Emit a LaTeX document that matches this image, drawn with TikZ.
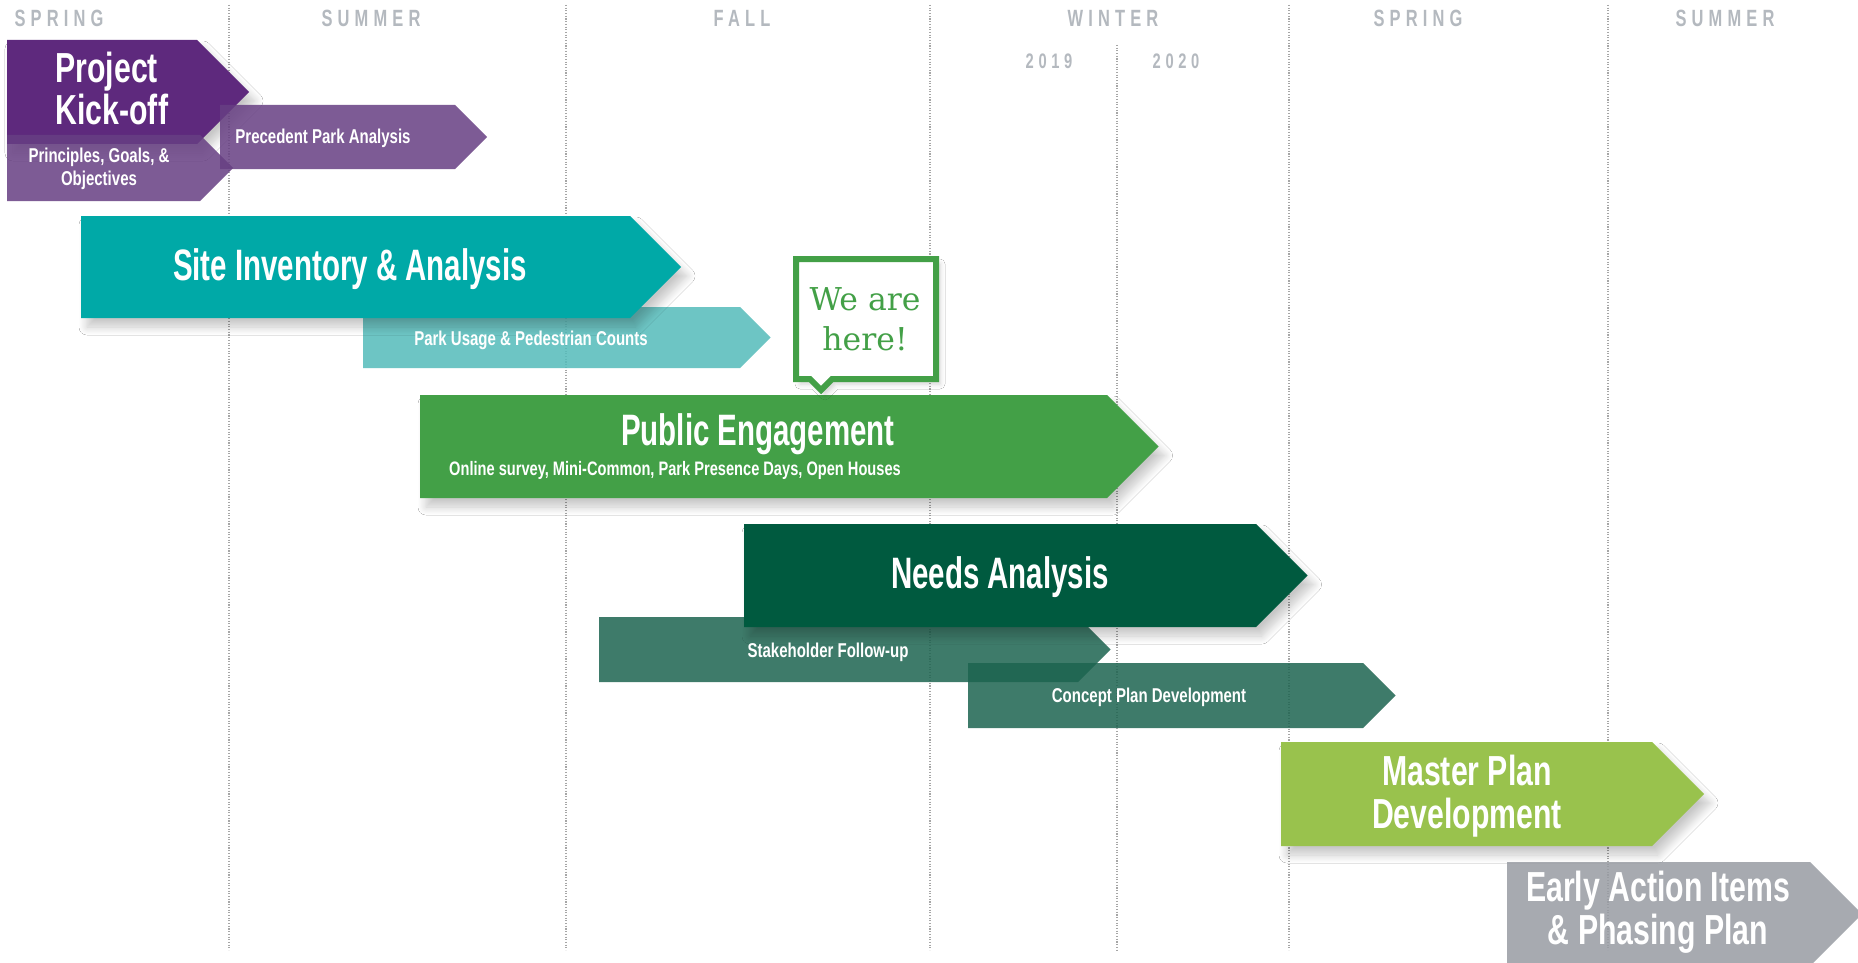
\documentclass[tikz,border=0pt]{standalone}
\usepackage{fontspec}
\usepackage{xcolor}
\usepackage{tikz}
\usetikzlibrary{calc}
\usetikzlibrary{shadows.blur}
\newfontfamily\phasefont{Liberation Sans}[FakeStretch=0.67]
\newfontfamily\blockfont{Liberation Sans}[FakeStretch=0.72]
\newfontfamily\taskfont{Liberation Sans}[FakeStretch=0.75]
\newfontfamily\seasonfont{Liberation Sans}[FakeStretch=0.7, LetterSpace=22]
\newfontfamily\herefont{DejaVu Serif}
\definecolor{KickPurple}{RGB}{94,41,125}
\definecolor{LightPurple}{RGB}{103,63,131}
\definecolor{SiteTeal}{RGB}{0,169,167}
\definecolor{LightTeal}{RGB}{84,188,186}
\definecolor{EngageGreen}{RGB}{67,160,71}
\definecolor{NeedsGreen}{RGB}{0,90,63}
\definecolor{FollowGreen}{RGB}{29,100,80}
\definecolor{MasterGreen}{RGB}{153,194,77}
\definecolor{ActionGray}{RGB}{152,156,163}
\definecolor{SeasonGray}{RGB}{180,185,191}
\newcommand{\phasebar}[5]{\fill[#1] (#2,#4) -- (#3,#4) -- ({#3+(#5-#4)/2},{(#4+#5)/2}) -- (#3,#5) -- (#2,#5) -- cycle;}
\tikzset{
	soft shadow/.style={blur shadow={shadow xshift=6pt, shadow yshift=-9pt, shadow blur radius=8pt, shadow blur steps=12, shadow opacity=22}},
	see through/.style={fill opacity=0.85},
	month line/.style={gray!70, line width=1.1pt, dash pattern=on 1.1pt off 1.6pt},
	season/.style={text=SeasonGray, anchor=base, font=\seasonfont\bfseries\fontsize{23.5}{24}\selectfont},
	year/.style={text=SeasonGray, anchor=base, font=\seasonfont\bfseries\fontsize{21}{22}\selectfont},
	big label/.style={text=white, anchor=base, font=\phasefont\bfseries\fontsize{44}{46}\selectfont},
	block label/.style={text=white, anchor=base, align=center, font=\blockfont\bfseries\fontsize{42}{43}\selectfont},
	task label/.style={text=white, anchor=base, align=center, font=\taskfont\bfseries\fontsize{20}{22}\selectfont},
}

\begin{document}
\begin{tikzpicture}[x=1pt, y=-1pt]

\useasboundingbox (0,0) rectangle (1858,963);
\clip (0,0) rectangle (1858,963);
\fill[white] (0,0) rectangle (1858,963);

\foreach \x in {229,566,930,1289,1608} \draw[month line] (\x,5) -- (\x,950);
\draw[month line] (1117,45) -- (1117,950);

\foreach \name/\x [count=\i] in {SPRING/59, SUMMER/371, FALL/742, WINTER/1113, SPRING/1418, SUMMER/1725}
	\node[season] (season\i) at (\x,27) {\name};
\node[year] (y2019) at (1049,69) {2019};
\node[year] (y2020) at (1176,69) {2020};

\phasebar{KickPurple, soft shadow}{7}{197}{40}{144}
\phasebar{LightPurple, see through}{7}{200}{135}{201}
\phasebar{LightPurple, see through}{220}{455}{105}{169}
\node[block label, anchor=base west, align=left] (kickoff) at (52,125) {Project\\Kick-off};
\node[task label] (principles) at (99,185) {Principles, Goals, \&\\Objectives};
\node[task label] (precedent) at (323,143) {Precedent Park Analysis};

\phasebar{LightTeal, see through}{363}{740}{307}{368}
\phasebar{SiteTeal, soft shadow}{81}{630}{216}{318}
\node[big label] (site) at (350,280) {Site Inventory \& Analysis};
\node[task label] (usage) at (531,345) {Park Usage \& Pedestrian Counts};

\phasebar{EngageGreen, soft shadow}{420}{1107}{395}{498}
\node[big label] (engage) at (758,445) {Public Engagement};
\node[task label, font=\taskfont\bfseries\fontsize{19.5}{21}\selectfont] (engagesub) at (675,475) {Online survey, Mini-Common, Park Presence Days, Open Houses};

\filldraw[fill=white, draw=EngageGreen, line width=6pt, blur shadow={shadow xshift=4pt, shadow yshift=-5pt, shadow blur radius=5pt, shadow opacity=18}]
	(796,259) -- (936,259) -- (936,379) -- (832,379) -- (821,390) -- (810,379) -- (796,379) -- cycle;
\node[text=EngageGreen, anchor=base, align=center, font=\herefont\fontsize{31.5}{40}\selectfont] (here) at (865,350) {We are\\here!};

\phasebar{FollowGreen, see through}{599}{1078}{617}{682}
\phasebar{NeedsGreen, soft shadow}{744}{1256}{524}{627}
\phasebar{FollowGreen, see through}{968}{1363}{663}{728}
\node[big label] (needs) at (1000,588) {Needs Analysis};
\node[task label] (stake) at (828,657) {Stakeholder Follow-up};
\node[task label] (concept) at (1149,702) {Concept Plan Development};

\phasebar{MasterGreen, soft shadow}{1281}{1652}{742}{846}
\node[block label] (master) at (1467,828) {Master Plan\\Development};

\phasebar{ActionGray, see through}{1507}{1810}{862}{966}
\node[block label] (early) at (1658,944) {Early Action Items\\\& Phasing Plan};
\end{tikzpicture}
\end{document}
